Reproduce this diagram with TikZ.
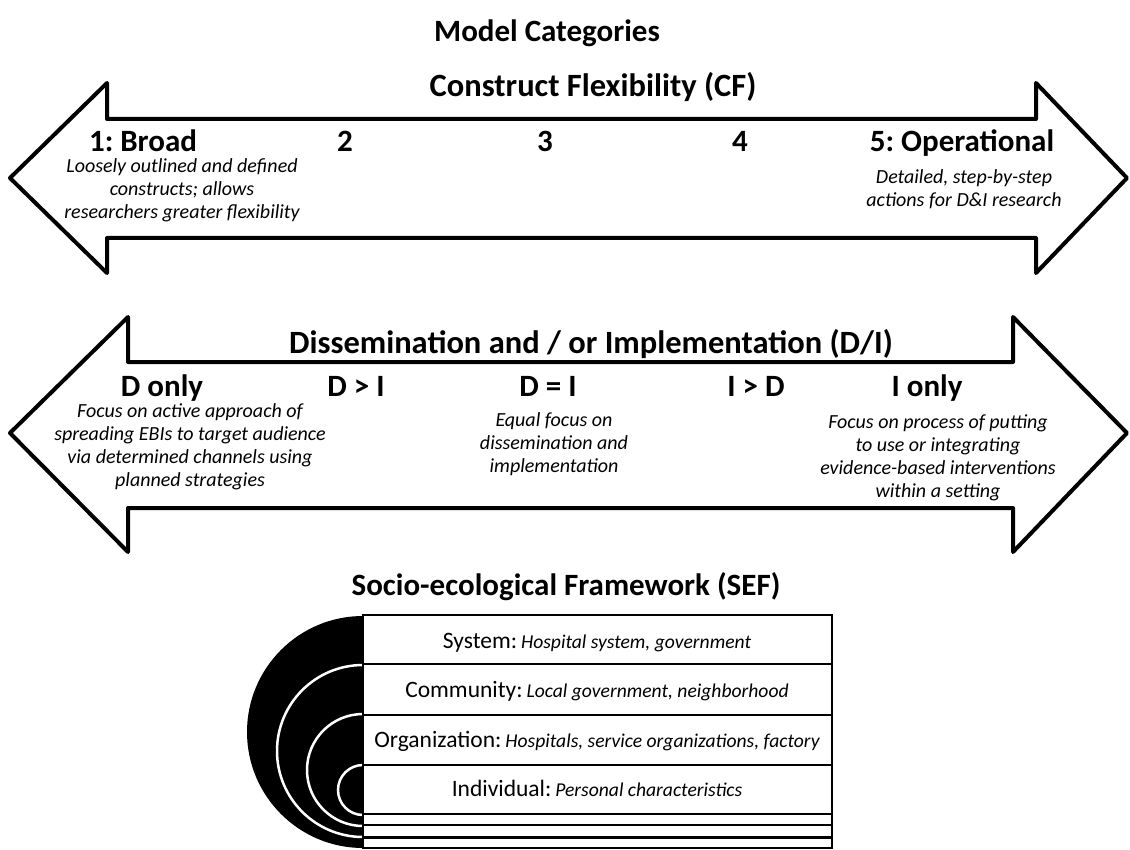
\documentclass[tikz,border=0pt]{standalone}
\usepackage{fontspec}
\setmainfont{Carlito}
\usepackage{tikz}

\tikzset{
  heading/.style={font=\fontsize{31}{37}\selectfont\bfseries, anchor=base, inner sep=0pt},
  bandtitle/.style={font=\fontsize{32.5}{38}\selectfont\bfseries, anchor=base, inner sep=0pt},
  level/.style={font=\fontsize{31}{37}\selectfont\bfseries, anchor=base, inner sep=0pt},
  note/.style={font=\fontsize{20}{23}\selectfont\itshape, align=center, anchor=base, inner sep=0pt},
  rowtext/.style={font=\fontsize{23.5}{27}\selectfont, anchor=base, inner sep=0pt},
  bigarrow/.style={draw=black, line width=4pt, line join=round, fill=white},
  ring/.style={draw=white, line width=2.5pt},
  rule/.style={draw=black, line width=2.5pt},
}
\newcommand{\rowhint}[1]{{\fontsize{19.6}{22}\selectfont\itshape #1}}
\frenchspacing

\begin{document}
\begin{tikzpicture}[x=1pt,y=1pt,yscale=-1,xscale=1]
\useasboundingbox (0,0) rectangle (1130,850);

% Title
\node [heading] (title) at (547,42) {Model Categories};

%Shape: Arrow (CF)
\draw [bigarrow] (10,178) -- (107,83) -- (107,119) -- (1036,119) -- (1036,83) -- (1127,178) -- (1036,273) -- (1036,238) -- (107,238) -- (107,273) -- cycle ;

% Text Node
\node [bandtitle] (cfTitle) at (593,97) {Construct Flexibility (CF)};
% Text Node
\node [level] (cfBroad) at (143,152) {1: Broad};
\node [level] (cfTwo) at (345,152) {2};
\node [level] (cfThree) at (545,152) {3};
\node [level] (cfFour) at (740,152) {4};
\node [level] (cfOper) at (962,152) {5: Operational};
% Text Node (base = last line)
\node [note] (cfBroadNote) at (182,219) {Loosely outlined and defined\\constructs; allows\\researchers greater flexibility};
\node [note] (cfOperNote) at (964,207) {Detailed, step-by-step\\actions for D\&I research};

%Shape: Arrow (D/I)
\draw [bigarrow] (10,433) -- (128,317) -- (128,362) -- (1013,362) -- (1013,317) -- (1127,433) -- (1013,552) -- (1013,508) -- (128,508) -- (128,552) -- cycle ;

% Text Node
\node [bandtitle] (diTitle) at (591,353) {Dissemination and / or Implementation (D/I)};
% Text Node
\node [level] (diD) at (162,396) {D only};
\node [level] (diDI) at (356,396) {D > I};
\node [level] (diEq) at (548,396) {D = I};
\node [level] (diID) at (756,396) {I > D};
\node [level] (diI) at (927,396) {I only};
% Text Node (base = last line)
\node [note] (diDNote) at (190,486) {Focus on active approach of\\spreading EBIs to target audience\\via determined channels using\\planned strategies};
\node [note] (diEqNote) at (554,472) {Equal focus on\\dissemination and\\implementation};
\node [note] (diINote) at (938,497) {Focus on process of putting\\to use or integrating\\evidence-based interventions\\within a setting};

% Text Node
\node [heading] (sefTitle) at (566,595) {Socio-ecological Framework (SEF)};

%Shape: Half discs
\fill [black] (363,616) arc [start angle=-90, end angle=-270, radius=116] -- cycle ;
\draw [ring] (363,665) arc [start angle=-90, end angle=-270, radius=86] ;
\draw [ring] (363,714) arc [start angle=-90, end angle=-270, radius=56] ;
\draw [ring] (363,765) arc [start angle=-90, end angle=-270, radius=25] ;

%Shape: Levels table
\draw [rule, fill=white] (363,615) rectangle (832,848) ;
\draw [rule] (363,664) -- (832,664) ;
\draw [rule] (363,715) -- (832,715) ;
\draw [rule] (363,765) -- (832,765) ;
\draw [rule] (363,814) -- (832,814) ;
\draw [rule, line width=1.8pt] (363,825) -- (832,825) ;
\draw [rule, line width=3pt] (363,837) -- (832,837) ;

% Text Node
\node [rowtext] (sys) at (597,648) {System:\,\rowhint{Hospital system, government}};
\node [rowtext] (com) at (597,697) {Community:\,\rowhint{Local government, neighborhood}};
\node [rowtext] (org) at (597,747) {Organization:\,\rowhint{Hospitals, service organizations, factory}};
\node [rowtext] (ind) at (597,796) {Individual:\,\rowhint{Personal characteristics}};

\end{tikzpicture}
\end{document}
